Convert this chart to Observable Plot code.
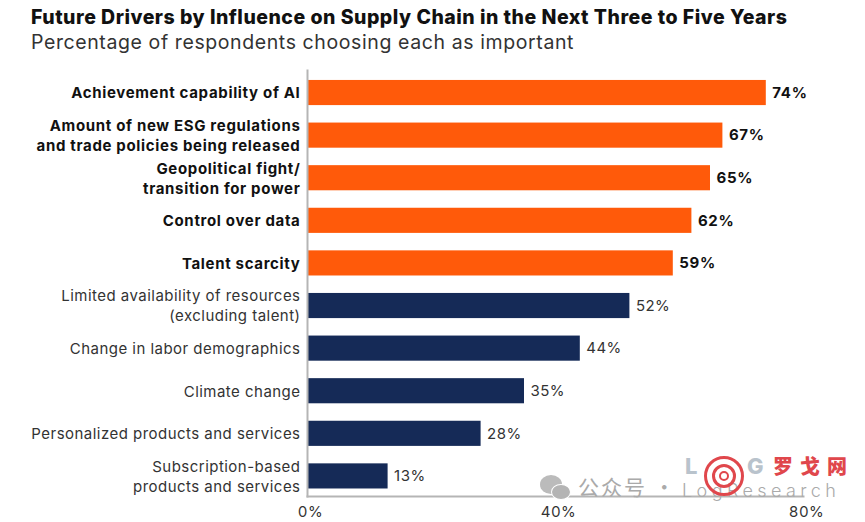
<!DOCTYPE html>
<html>
<head>
<meta charset="utf-8">
<script src="https://cdn.jsdelivr.net/npm/d3@7"></script>
<script src="https://cdn.jsdelivr.net/npm/@observablehq/plot@0.6"></script>
<style>
  html,body{margin:0;padding:0;background:#fff;width:865px;height:522px;overflow:hidden;position:relative;font-family:Inter,sans-serif}
  #head{height:60px;box-sizing:border-box;padding:6px 0 0 31px;color:#111}
  #t{font-size:19.5px;font-weight:800;line-height:23px;letter-spacing:.5px;white-space:nowrap}
  #s{font-size:19.5px;font-weight:400;line-height:27px;color:#333;letter-spacing:.6px;white-space:nowrap}
  #chart svg{display:block}
  .b text{letter-spacing:.67px}
  .r text{letter-spacing:.47px}
  .wm{position:absolute;white-space:nowrap;line-height:1}
  .dot{position:absolute;border-radius:50%;box-sizing:border-box}
</style>
</head>
<body>
<div id="head">
  <div id="t">Future Drivers by Influence on Supply Chain in the Next Three to Five Years</div>
  <div id="s">Percentage of respondents choosing each as important</div>
</div>
<div id="chart"></div>
<div class="dot" style="left:540px;top:475px;width:22px;height:19px;background:#bbb"></div>
<div class="dot" style="left:551px;top:484px;width:20px;height:16px;background:#b4b4b4;border:1px solid #fff"></div>
<div class="wm" style="left:578px;top:476px;font-family:'Noto Sans CJK SC';font-size:21px;line-height:21px;color:#aaa;letter-spacing:2px">公众号 ·</div>
<div class="wm" style="left:682px;top:482px;font-family:Inter;font-weight:300;font-size:18px;line-height:18px;color:#aaa;letter-spacing:4.4px">LogResearch</div>
<div class="wm" style="left:685px;top:455px;font-family:Inter;font-weight:800;font-size:22px;line-height:22px;color:#b9c3cc">L</div>
<div class="wm" style="left:747px;top:455px;font-family:Inter;font-weight:800;font-size:22px;line-height:22px;color:#b9c3cc">G</div>
<div class="dot" style="left:704px;top:456px;width:40px;height:40px;border:3px solid #e0474c"></div>
<div class="dot" style="left:712px;top:464px;width:24px;height:24px;border:3px solid #e0474c"></div>
<div class="dot" style="left:719px;top:471px;width:10px;height:10px;border:2px solid #e0474c"></div>
<div class="wm" style="left:773px;top:456px;font-family:'Noto Sans CJK SC';font-weight:800;font-size:20px;line-height:20px;letter-spacing:7px;color:#e0474c">罗戈网</div>
<script>
const labels = [
  "Achievement capability of AI",
  "Amount of new ESG regulations\nand trade policies being released",
  "Geopolitical fight/\ntransition for power",
  "Control over data",
  "Talent scarcity",
  "Limited availability of resources\n(excluding talent)",
  "Change in labor demographics",
  "Climate change",
  "Personalized products and services",
  "Subscription-based\nproducts and services"
];
const values = [74, 67, 65, 62, 59, 52, 44, 35, 28, 13];
const highlighted = [true, true, true, true, true, false, false, false, false, false];
const xTicks = [0, 40, 80];
const orange = "#ff5a0a", navy = "#152a57";

const rows = labels.map((label, i) => ({label, value: values[i], top: highlighted[i]}));
const topRows = rows.filter(d => d.top), restRows = rows.filter(d => !d.top);
const labelFont = {fontSize: 15, lineHeight: 1.33, textAnchor: "end", dx: -7, dy: -1};
const valueFont = {fontSize: 15, textAnchor: "start", dx: 6};

const plot = Plot.plot({
  width: 865, height: 462,
  marginTop: 10, marginBottom: 26, marginLeft: 307, marginRight: 62,
  style: {fontFamily: "Inter, sans-serif", background: "#fff"},
  x: {domain: [0, 80], axis: null},
  y: {domain: labels, round: false, paddingInner: 0.41, paddingOuter: 0.205, align: 0.57, axis: null},
  marks: [
    Plot.barX(rows, {x: "value", y: "label", fill: d => d.top ? orange : navy}),
    Plot.frame({anchor: "left", stroke: "#b5b5b5", strokeWidth: 2}),
    Plot.frame({anchor: "bottom", stroke: "#b5b5b5", strokeWidth: 2}),
    Plot.text(topRows, {x: 0, y: "label", text: "label", fill: "#111", fontWeight: 700, className: "b", ...labelFont}),
    Plot.text(restRows, {x: 0, y: "label", text: "label", fill: "#333", fontWeight: 400, className: "r", ...labelFont}),
    Plot.text(topRows, {x: "value", y: "label", text: d => d.value + "%", fill: "#111", fontWeight: 700, className: "b", ...valueFont}),
    Plot.text(restRows, {x: "value", y: "label", text: d => d.value + "%", fill: "#333", fontWeight: 400, className: "r", ...valueFont}),
    Plot.axisX(xTicks, {anchor: "bottom", label: null, tickSize: 0, tickPadding: 10, tickFormat: d => d + "%", fontSize: 15, fill: "#333", dx: 3, className: "r"})
  ]
});
document.getElementById("chart").append(plot);
</script>
</body>
</html>
